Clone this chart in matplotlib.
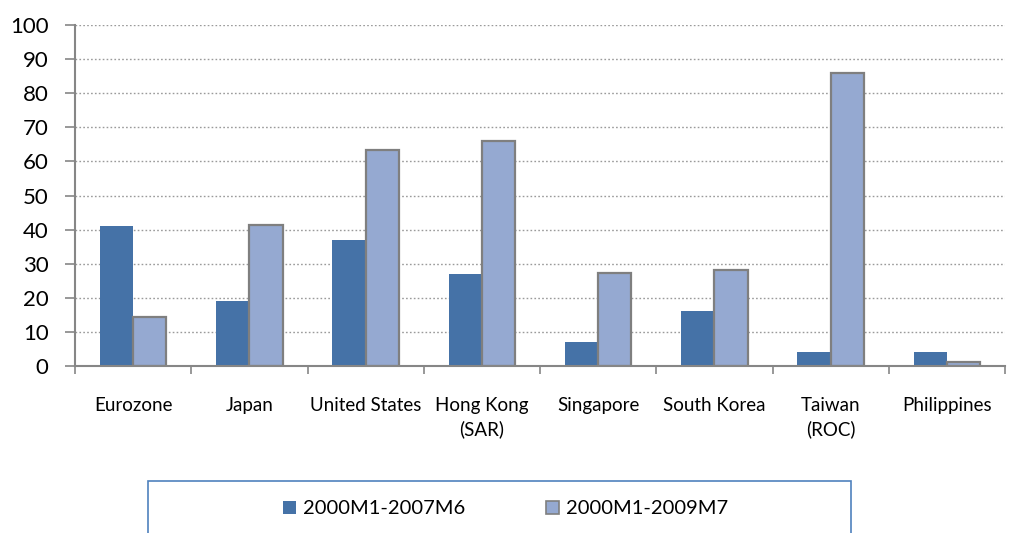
import numpy as np
import matplotlib.pyplot as plt
from matplotlib.patches import Rectangle

plt.rcParams['font.family'] = ['Lato', 'DejaVu Sans']

# data ---------------------------------------------------------------
countries = ["Eurozone", "Japan", "United States", "Hong Kong\n(SAR)",
             "Singapore", "South Korea", "Taiwan\n(ROC)", "Philippines"]
period_a = [41, 19, 37, 27, 7, 16, 4, 4]        # 2000M1-2007M6
period_b = [14.3, 41.3, 63.2, 66, 27.3, 28.2, 86, 1.3]   # 2000M1-2009M7
labels = ["2000M1-2007M6", "2000M1-2009M7"]

DARK = "#4572A7"
LIGHT = "#95A9D1"
EDGE = "#7F7F7F"
AXIS = "#868686"

fig = plt.figure(figsize=(10.11, 5.33), dpi=100)
ax = fig.add_axes([75 / 1011, 1 - 366 / 533, 930 / 1011, 341 / 533])

x = np.arange(len(countries))
w = 0.285
ax.bar(x - w / 2, period_a, w, color=DARK, edgecolor="none", zorder=2,
       label=labels[0])
ax.bar(x + w / 2, period_b, w, color=LIGHT, edgecolor=EDGE, linewidth=1.6,
       zorder=2, label=labels[1])

# axes ---------------------------------------------------------------
ax.set_xlim(-0.5, len(countries) - 0.5)
ax.set_ylim(0, 100)
ax.set_yticks(range(0, 101, 10))
ax.tick_params(axis="y", labelsize=16, length=7, color=AXIS, width=1.2,
               pad=12)
ax.set_xticks(np.arange(len(countries) + 1) - 0.5, minor=True)
ax.set_xticks(x)
ax.set_xticklabels(countries, fontsize=13.5, linespacing=1.45)
ax.tick_params(axis="x", which="major", length=0, pad=22)
ax.tick_params(axis="x", which="minor", length=6, color=AXIS, width=1.2)

ax.yaxis.grid(True, ls=(0, (1.2, 1.6)), color="#9A9A9A", lw=1.0, zorder=0)
for s in ("top", "right"):
    ax.spines[s].set_visible(False)
for s in ("left", "bottom"):
    ax.spines[s].set_color(AXIS)
    ax.spines[s].set_linewidth(1.5)

# legend box ---------------------------------------------------------
fig.patches.append(Rectangle((148 / 1011, -0.05), 703 / 1011,
                             1 - 481 / 533 + 0.05, transform=fig.transFigure,
                             fill=False, edgecolor="#4F81BD", lw=1.2))
leg = fig.legend(loc="center", bbox_to_anchor=(0.5, 1 - 509 / 533),
                 ncol=2, frameon=False, fontsize=14.5, handlelength=0.65,
                 handleheight=0.65, handletextpad=0.35, columnspacing=4.0)
for h in leg.legend_handles:
    h.set_linewidth(1.2)

fig.savefig("out.png", dpi=100)
